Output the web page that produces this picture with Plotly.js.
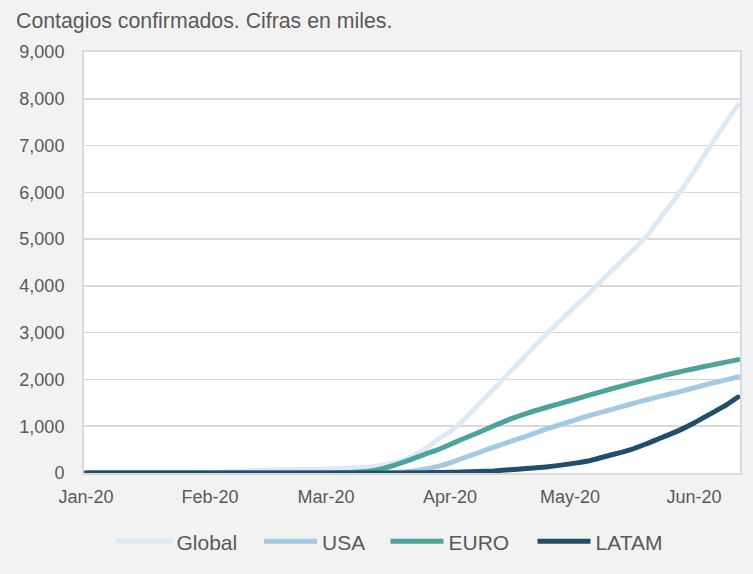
<!DOCTYPE html>
<html>
<head>
<meta charset="utf-8">
<script src="https://cdn.plot.ly/plotly-3.0.1.min.js"></script>
<style>
  html, body { margin: 0; padding: 0; background: #f2f2f2; }
  #chart { width: 753px; height: 574px; }
  .scatterlayer path.js-line, .legend path.js-line { stroke-linecap: round; stroke-linejoin: round; }
</style>
</head>
<body>
<div id="chart"></div>
<script>
const dates = [
  '2020-01-01','2020-01-22','2020-02-01','2020-02-10','2020-02-20',
  '2020-03-01','2020-03-08','2020-03-12','2020-03-15','2020-03-18',
  '2020-03-22','2020-03-26','2020-03-29','2020-04-01','2020-04-04',
  '2020-04-08','2020-04-12','2020-04-16','2020-04-20','2020-04-25',
  '2020-05-01','2020-05-06','2020-05-11','2020-05-16','2020-05-20',
  '2020-05-24','2020-05-28','2020-06-01','2020-06-05','2020-06-09',
  '2020-06-12'
];
// Confirmed cases, thousands
const globalCases = [0, 0.6, 12, 43, 76, 88, 110, 130, 165, 215, 335, 530, 720, 880, 1100,
  1450, 1800, 2160, 2520, 2960, 3460, 3860, 4290, 4700, 5050, 5500, 5950, 6450, 6980, 7500, 7870];
const usaCases = [0, 0, 0, 0, 0, 0.1, 0.5, 1.6, 3.5, 9, 33, 85, 140, 215, 310,
  430, 555, 670, 785, 940, 1100, 1230, 1350, 1470, 1560, 1650, 1730, 1820, 1910, 1990, 2052];
const euroCases = [0, 0, 0, 0, 0, 2, 15, 45, 95, 165, 280, 410, 500, 610, 720,
  860, 1010, 1150, 1270, 1400, 1545, 1670, 1790, 1905, 1990, 2075, 2155, 2230, 2300, 2370, 2424];
const latamCases = [0, 0, 0, 0, 0, 0, 0, 0, 0.5, 1, 3, 7, 10, 15, 20,
  30, 45, 70, 95, 130, 195, 265, 380, 495, 620, 760, 900, 1070, 1260, 1450, 1624];

const seriesNames = ['Global', 'USA', 'EURO', 'LATAM'];
const seriesColors = ['#ddeaf5', '#a3c9e4', '#4fa39e', '#214f69'];
const seriesValues = [globalCases, usaCases, euroCases, latamCases];

const tickDates = ['2020-01-01','2020-02-01','2020-03-01','2020-04-01','2020-05-01','2020-06-01'];
const tickLabels = ['Jan-20','Feb-20','Mar-20','Apr-20','May-20','Jun-20'];

const legendIds = ['legend', 'legend2', 'legend3', 'legend4'];
const legendLeft = [113.5, 259, 385.5, 532.5]; // px from left of page

const traces = seriesNames.map((n, i) => ({
  type: 'scatter',
  mode: 'lines',
  name: n,
  legend: legendIds[i],
  x: dates,
  y: seriesValues[i],
  line: { color: seriesColors[i], width: 5, shape: 'spline', smoothing: 0.6 },
  cliponaxis: false,
  hoverinfo: 'skip'
}));

function legendAt(px) {
  return {
    orientation: 'h',
    xref: 'container', yref: 'container',
    x: px / 753, xanchor: 'left',
    y: 1 - 541.7 / 574, yanchor: 'middle',
    font: { size: 21, color: '#595959' },
    itemwidth: 53,
    bgcolor: 'rgba(0,0,0,0)',
    borderwidth: 0
  };
}

const layout = {
  width: 753,
  height: 574,
  margin: { l: 84, r: 13, t: 52, b: 101, pad: 0 },
  paper_bgcolor: '#f2f2f2',
  plot_bgcolor: '#ffffff',
  font: { family: 'Liberation Sans, Arial, sans-serif', color: '#595959', size: 18 },
  title: {
    text: 'Contagios confirmados. Cifras en miles.',
    font: { size: 21.3, color: '#595959' },
    xref: 'container', yref: 'container',
    x: 16 / 753, xanchor: 'left',
    y: 1 - 21 / 574, yanchor: 'middle'
  },
  xaxis: {
    type: 'date',
    range: ['2019-12-31 12:00', '2020-06-12 12:00'],
    tickvals: tickDates,
    ticktext: tickLabels,
    showgrid: false,
    zeroline: false,
    showline: true,
    mirror: true,
    linecolor: '#d9d9d9',
    linewidth: 2,
    ticks: '',
    ticklabelstandoff: 6,
    tickfont: { size: 18, color: '#595959' },
    fixedrange: true
  },
  yaxis: {
    range: [0, 9000],
    dtick: 1000,
    tickformat: ',d',
    showgrid: true,
    gridcolor: '#d9d9d9',
    gridwidth: 1.5,
    zeroline: false,
    showline: true,
    mirror: true,
    linecolor: '#d9d9d9',
    linewidth: 2,
    ticks: '',
    ticklabelstandoff: 14,
    tickfont: { size: 18, color: '#595959' },
    fixedrange: true
  },
  showlegend: true,
  legend: legendAt(legendLeft[0]),
  legend2: legendAt(legendLeft[1]),
  legend3: legendAt(legendLeft[2]),
  legend4: legendAt(legendLeft[3]),
  hovermode: false
};

Plotly.newPlot('chart', traces, layout, { displayModeBar: false, staticPlot: true });
</script>
</body>
</html>
